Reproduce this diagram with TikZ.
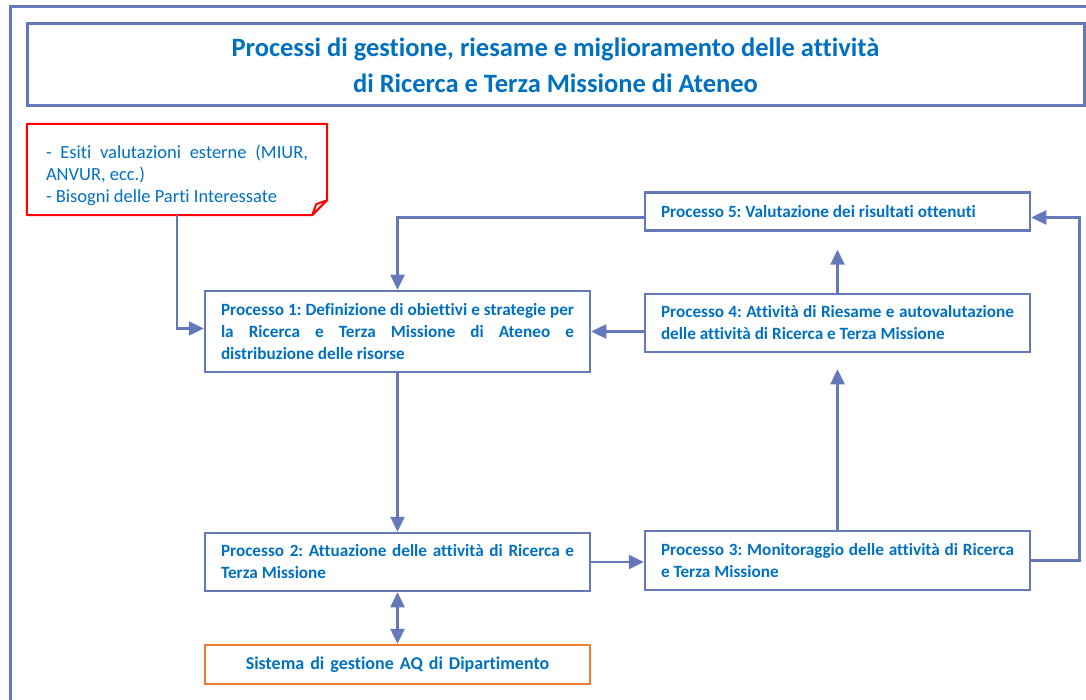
\documentclass[tikz,border=0pt]{standalone}
\usepackage{fontspec}
\setmainfont{Carlito}[Ligatures=NoCommon]
\usetikzlibrary{arrows.meta}
\definecolor{frameblue}{RGB}{101,120,186}
\definecolor{textblue}{RGB}{0,112,192}
\definecolor{aqorange}{RGB}{237,125,49}
\frenchspacing
\hyphenpenalty=10000
\exhyphenpenalty=10000

\begin{document}
\begin{tikzpicture}
    [
    x = 1pt, y = -1pt,
    every node/.style = {text=textblue, font=\fontsize{17}{22}\selectfont},
    titlebox/.style   = {draw=frameblue, line width=3pt, minimum width=1057pt,
                         minimum height=82pt, align=center,
                         font=\fontsize{26.5}{36}\selectfont\bfseries},
    process/.style    = {draw=frameblue, line width=2.5pt, minimum width=385pt,
                         text width=353pt, inner xsep=16pt, align=justify,
                         font=\fontsize{17.2}{22}\selectfont\bfseries},
    notebox/.style    = {text width=262pt, inner xsep=19pt, align=justify,
                         minimum height=79pt, font=\fontsize{18.5}{22}\selectfont},
    flow/.style       = {draw=frameblue, line width=2.5pt,
                         -{Triangle[length=15pt,width=14pt]}},
    both/.style       = {flow, {Triangle[length=15pt,width=14pt]}-{Triangle[length=15pt,width=14pt]}}
    ]
    \useasboundingbox (0,0) rectangle (1086,700);
    % outer frame
    \draw [frameblue, line width=3pt] (10,700) -- (10,7) -- (1086,7);

    \node [titlebox] (title) at (555.5,65)
        {Processi di gestione, riesame e miglioramento delle attività\\
         di Ricerca e Terza Missione di Ateneo};

    % external inputs
    \node [notebox] (note) at (177,175.5)
        {- Esiti valutazioni esterne (MIUR, ANVUR, ecc.)\\
         - Bisogni delle Parti Interessate};
    \draw [red, line width=2pt, line join=round]
        ([yshift=12pt]note.north west) -- ([yshift=12pt]note.north east)
        -- ([yshift=15pt]note.south east) -- ([xshift=-15pt]note.south east)
        -- (note.south west) -- cycle
        ([yshift=15pt]note.south east) -- ([xshift=-11pt,yshift=11pt]note.south east)
        -- ([xshift=-15pt]note.south east);

    \node [process, minimum height=81pt] (p1) at (397.5,331.5)
        {Processo 1: Definizione di obiettivi e strategie per\linebreak
         la Ricerca e Terza Missione di Ateneo e\linebreak
         distribuzione delle risorse};
    \node [process, minimum height=58pt] (p2) at (397.5,562)
        {Processo 2: Attuazione delle attività di Ricerca e\linebreak Terza Missione};
    \node [process, minimum height=59pt] (p3) at (837.5,560.5)
        {Processo 3: Monitoraggio delle attività di Ricerca\linebreak e Terza Missione};
    \node [process, minimum height=58pt] (p4) at (837.5,323)
        {Processo 4: Attività di Riesame e autovalutazione\linebreak delle attività di Ricerca e Terza Missione};
    \node [process, minimum height=38pt] (p5) at (837.5,211.5)
        {Processo 5: Valutazione dei risultati ottenuti};
    \node [process, draw=aqorange, minimum height=39pt, align=center,
           font=\fontsize{18}{22}\selectfont\bfseries] (aq) at (397.5,664.5)
        {Sistema di gestione AQ di Dipartimento};

    % connectors
    \draw [flow] (note.south) |- ([yshift=3pt]p1.west);
    \draw [flow] ([yshift=-6pt]p5.west) -| (p1.north);
    \draw [flow] (p4.west |- p1.east) -- (p1.east);
    \draw [flow, shorten >=18pt] (p4.north) -- (p5.south);
    \draw [flow, shorten >=16pt] (p3.north) -- (p4.south);
    \draw [flow] (p1.south) -- (p2.north);
    \draw [flow] (p2.east) -- (p2.east -| p3.west);
    \draw [flow] (p3.east) -| ([xshift=48pt,yshift=-6pt]p5.east) -- ([yshift=-6pt]p5.east);
    \draw [both] (p2.south) -- (aq.north);
\end{tikzpicture}
\end{document}
